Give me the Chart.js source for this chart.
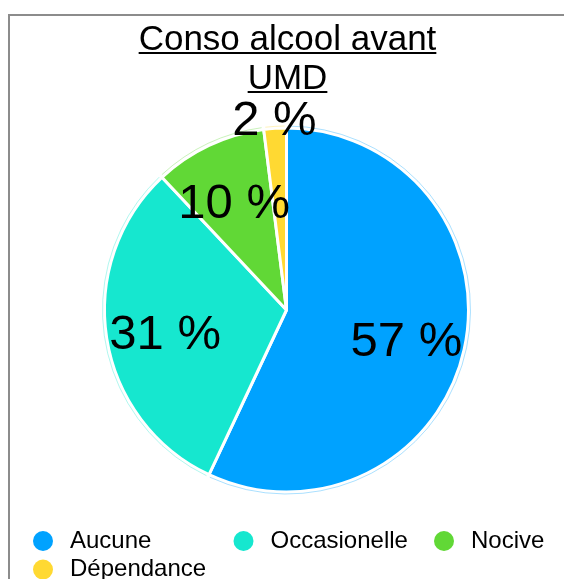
<!DOCTYPE html>
<html><head><meta charset="utf-8">
<script src="https://cdn.jsdelivr.net/npm/chart.js@4/dist/chart.umd.min.js"></script>
<style>
html,body{margin:0;padding:0;background:#fff;overflow:hidden;}
#frame{position:absolute;left:8px;top:14px;width:620px;height:620px;border-left:2px solid #8c8c8c;border-top:2px solid #8c8c8c;}
#wrap{position:absolute;left:0;top:0;width:564px;height:579px;}
</style></head><body>
<div id="frame"></div>
<div id="wrap"><canvas id="c" width="564" height="579"></canvas></div>
<script>
const titleLines = ['Conso alcool avant', 'UMD'];
const categories = ['Aucune', 'Occasionelle', 'Nocive', 'Dépendance'];
const values = [57, 31, 10, 2];
const colors = ['#00A2FF', '#16E7CF', '#61D836', '#FFD932'];

const FONT = '"Liberation Sans", Arial, Helvetica, sans-serif';

const titlePlugin = {
  id: 'underlinedTitle',
  afterDraw(chart) {
    const ctx = chart.ctx;
    ctx.save();
    ctx.font = '35px ' + FONT;
    ctx.fillStyle = '#000';
    ctx.textAlign = 'center';
    ctx.textBaseline = 'alphabetic';
    const cx = (chart.chartArea.left + chart.chartArea.right) / 2 + 1;
    titleLines.forEach((t, i) => {
      const y = 50 + i * 39;
      ctx.fillText(t, cx, y);
      const w = ctx.measureText(t).width;
      ctx.fillRect(cx - w / 2, y + 2, w, 2);
    });
    ctx.restore();
  }
};

const labelPlugin = {
  id: 'pctLabels',
  afterDatasetsDraw(chart) {
    const ctx = chart.ctx;
    const meta = chart.getDatasetMeta(0);
    const data = chart.data.datasets[0].data;
    const total = data.reduce((a, b) => a + b, 0);
    ctx.save();
    // faint outer outline
    meta.data.forEach((arc, i) => {
      const p = arc.getProps(['x', 'y', 'startAngle', 'endAngle', 'outerRadius'], true);
      ctx.beginPath();
      ctx.arc(p.x, p.y, p.outerRadius + 2, p.startAngle + 0.01, p.endAngle - 0.01);
      ctx.strokeStyle = colors[i] + '55';
      ctx.lineWidth = 1;
      ctx.stroke();
    });
    ctx.font = '49px ' + FONT;
    ctx.fillStyle = '#000';
    ctx.textAlign = 'center';
    ctx.textBaseline = 'middle';
    meta.data.forEach((arc, i) => {
      const p = arc.getProps(['x', 'y', 'startAngle', 'endAngle', 'outerRadius'], true);
      const mid = (p.startAngle + p.endAngle) / 2;
      const pct = data[i] / total * 100;
      const outside = pct < 5;
      const r = outside ? p.outerRadius + 10 : p.outerRadius * 0.675;
      const dy = outside ? 3 : 6;
      ctx.fillText(Math.round(pct) + ' %', p.x + Math.cos(mid) * r, p.y + Math.sin(mid) * r + dy);
    });
    ctx.restore();
  }
};

const legendPlugin = {
  id: 'gridLegend',
  afterDraw(chart) {
    const ctx = chart.ctx;
    ctx.save();
    ctx.font = '24px ' + FONT;
    ctx.textAlign = 'left';
    ctx.textBaseline = 'middle';
    categories.forEach((c, i) => {
      const col = i % 3, row = Math.floor(i / 3);
      const left = 28 + col * 200.5;
      const y = 541 + row * 28.5;
      ctx.beginPath();
      ctx.arc(left + 15, y, 10, 0, Math.PI * 2);
      ctx.fillStyle = colors[i];
      ctx.fill();
      ctx.fillStyle = '#000';
      ctx.fillText(c, left + 42, y);
    });
    ctx.restore();
  }
};

new Chart(document.getElementById('c'), {
  type: 'pie',
  data: {
    labels: categories,
    datasets: [{
      data: values,
      backgroundColor: colors,
      borderColor: '#ffffff',
      borderWidth: 3
    }]
  },
  options: {
    responsive: false,
    animation: false,
    layout: { padding: { left: 103, right: 94, top: 126.5, bottom: 85.5 } },
    plugins: {
      legend: { display: false },
      title: { display: false },
      tooltip: { enabled: false }
    }
  },
  plugins: [titlePlugin, labelPlugin, legendPlugin]
});
</script>
</body></html>
